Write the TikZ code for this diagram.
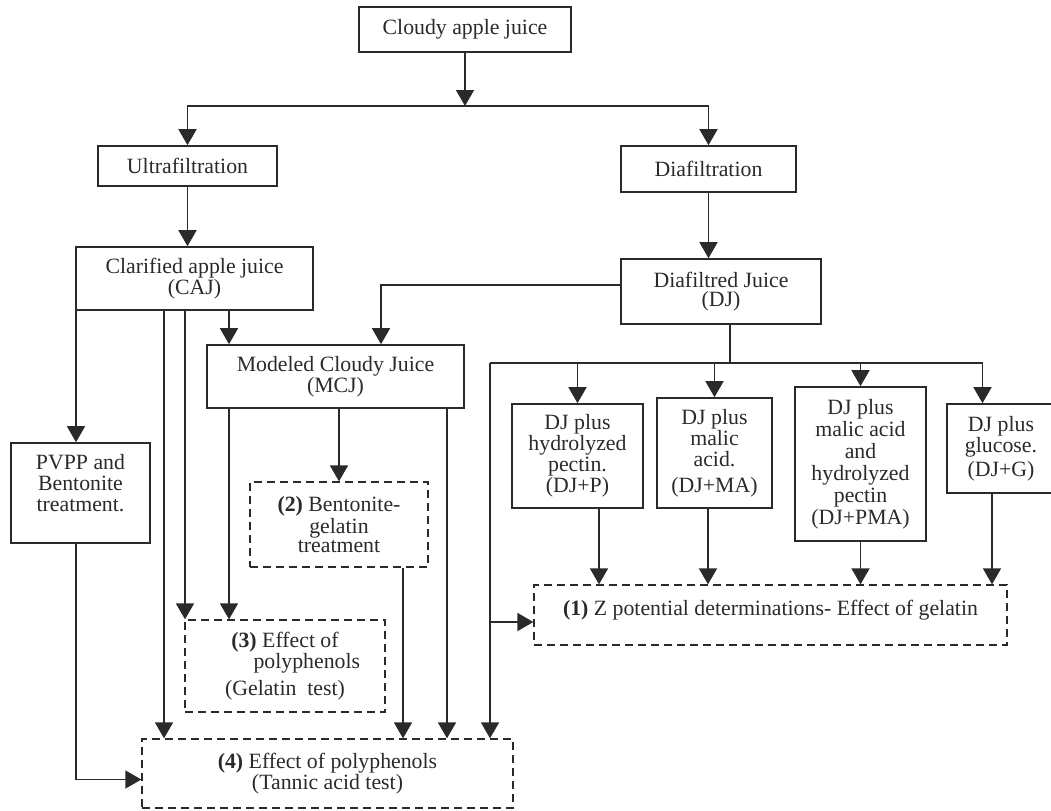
\documentclass[tikz,border=0pt]{standalone}
\usepackage{fontspec}
\setmainfont{Liberation Serif}
\usetikzlibrary{arrows.meta}
\definecolor{ink}{HTML}{2A2A2A}

\begin{document}
\begin{tikzpicture}[x=0.5pt, y=-0.5pt, >={Triangle[width=9pt,length=8pt]},
  box/.style={draw=ink, line width=0.8pt, align=center, inner sep=1pt, text=ink,
    font=\fontsize{10.9}{10.5}\selectfont},
  dbox/.style={box, line width=0.65pt, dash pattern=on 4pt off 2.5pt},
  link/.style={draw=ink, line width=0.8pt}]

\useasboundingbox (0,0) rectangle (1051,810);

% boxes
\node [box, minimum width=106pt, minimum height=22.5pt] (cloudy) at (465,29.5) {Cloudy apple juice};
\node [box, minimum width=89.5pt, minimum height=20pt] (ultra) at (187.5,166) {Ultrafiltration};
\node [box, minimum width=87.5pt, minimum height=23pt] (dia) at (708.5,169) {Diafiltration};
\node [box, minimum width=118.5pt, minimum height=31.5pt] (caj) at (194.5,278.5) {Clarified apple juice\\(CAJ)};
\node [box, minimum width=100pt, minimum height=32.5pt] (dj) at (721,291.5) {Diafiltred Juice\\[-1pt](DJ)};
\node [box, minimum width=128.5pt, minimum height=31.5pt] (mcj) at (335.5,376.5) {Modeled Cloudy Juice\\(MCJ)};
\node [box, minimum width=69.5pt, minimum height=50pt] (pvpp) at (80.5,493) {PVPP and\\Bentonite\\treatment.\\\mbox{}};
\node [dbox, minimum width=89pt, minimum height=42.5pt, font=\fontsize{10.9}{9.5}\selectfont] (eff2) at (339,524.5) {\textbf{(2)} Bentonite-\\gelatin\\treatment};
\node [dbox, minimum width=100pt, minimum height=46pt] (eff3) at (285,666) {\textbf{(3)} Effect of\\\hspace*{2em}polyphenols\\[3pt](Gelatin~ test)};
\node [dbox, minimum width=185.5pt, minimum height=34.5pt] (eff4) at (327.5,773.5) {\textbf{(4)} Effect of polyphenols\\(Tannic acid test)};

\node [box, minimum width=65.5pt, minimum height=52pt] (djp) at (577.5,456) {DJ plus\\hydrolyzed\\pectin.\\(DJ+P)};
\node [box, minimum width=57.5pt, minimum height=55pt] (djma) at (714.5,453) {DJ plus\\malic\\acid.\\[2.5pt](DJ+MA)};
\node [box, minimum width=65.5pt, minimum height=77pt, font=\fontsize{10.9}{11}\selectfont] (djpma) at (860.5,464) {DJ plus\\malic acid\\and\\hydrolyzed\\pectin\\(DJ+PMA)};
\node [box, minimum width=54pt, minimum height=44.5pt] (djg) at (1001,448.5) {DJ plus\\glucose.\\[1.5pt](DJ+G)};
\node [dbox, minimum width=236.5pt, minimum height=30pt] (eff1) at (770.5,615) {\textbf{(1)} Z potential determinations- Effect of gelatin\\[-3pt]\mbox{}};

% lanes
\coordinate (split) at (468,106);
\coordinate (bus) at (730,363);
\coordinate (pvppline) at (76,0);
\coordinate (caj2eff4) at (164,0);
\coordinate (caj2eff3) at (185,0);
\coordinate (caj2mcj) at (229,0);
\coordinate (dj2mcj) at (381,0);
\coordinate (eff2out) at (403,0);
\coordinate (mcj2eff4) at (447,0);
\coordinate (djleft) at (490,0);

% top
\draw [link,->] (cloudy.south) -- (cloudy.south |- split);
\draw [link,->] (cloudy.south |- split) -| (ultra.north);
\draw [link,->] (cloudy.south |- split) -| (dia.north);
\draw [link,->] (ultra) -- (ultra |- caj.north);
\draw [link,->] (dia) -- (dia |- dj.north);

% left side
\foreach \lane/\target in {pvppline/pvpp, caj2eff4/eff4, caj2eff3/eff3, caj2mcj/mcj}
  \draw [link,->] (caj.south -| \lane) -- (\target.north -| \lane);

\foreach \lane/\target in {caj2mcj/eff3, mcj2eff4/eff4}
  \draw [link,->] (mcj.south -| \lane) -- (\target.north -| \lane);

\draw [link,->] (mcj.south -| eff2.north) -- (eff2.north);
\draw [link,->] (eff2.south -| eff2out) -- (eff4.north -| eff2out);
\draw [link,->] (pvpp.south -| pvppline) |- ([yshift=-3pt]eff4.west);
\draw [link,->] ([yshift=3.25pt]dj.west) -| (mcj.north -| dj2mcj);

% right side
\draw [link] (dj.south -| bus) -- (bus);
\draw [link] (bus -| djleft) -- ([xshift=-9.25pt]djg.north |- bus);

\foreach \n/\a/\b in {djp/0pt/10.75pt, djma/0pt/-3.25pt, djpma/0pt/0pt, djg/-9.25pt/-4.5pt} {
  \draw [link,->] ([xshift=\a]\n.north |- bus) -- ([xshift=\a]\n.north);
  \draw [link,->] ([xshift=\b]\n.south) -- ([xshift=\b]\n.south |- eff1.north);
}

\draw [link,->] (bus -| djleft) |- ([yshift=-3.5pt]eff1.west);
\draw [link,->] (bus -| djleft) -- (eff4.north -| djleft);

\end{tikzpicture}
\end{document}
